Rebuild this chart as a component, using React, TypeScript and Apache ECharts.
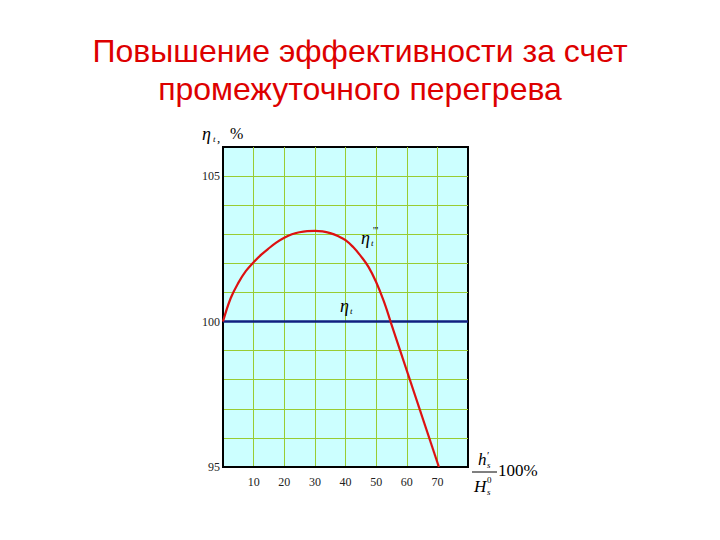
import React, { useEffect, useRef } from "react";
import * as echarts from "echarts";

const titleLines = ["Повышение эффективности за счет", "промежуточного перегрева"];
const xMin = 0;
const xMax = 80;
const xStep = 10;
const yMin = 95;
const yMax = 106;
const yStep = 1;
const xTickLabels = [10, 20, 30, 40, 50, 60, 70];
const yTickLabels = [95, 100, 105];
const reheatX = [0, 2.5, 5, 7.5, 10, 12.5, 15, 17.5, 20, 22.5, 25, 27.5, 30, 32.5, 35, 37.5, 40, 42.5, 45, 47.5, 50, 52.5, 54.7];
const reheatY = [100, 100.8, 101.33, 101.74, 102.04, 102.3, 102.52, 102.72, 102.88, 103.0, 103.07, 103.11, 103.12, 103.1, 103.04, 102.94, 102.8, 102.56, 102.25, 101.88, 101.36, 100.7, 100];
const dropX = [54.7, 70.5];
const dropY = [100, 95];
const baseX = [0, 80];
const baseY = [100, 100];

const SERIF = '"Liberation Serif", "Times New Roman", serif';
const SANS = '"Liberation Sans", Arial, sans-serif';

export default function App() {
  const ref = useRef<HTMLDivElement>(null);
  useEffect(() => {
    if (!ref.current) return;
    const chart = echarts.init(ref.current, undefined, { renderer: "svg" });
    const pair = (xs: number[], ys: number[]) => xs.map((x, i) => [x, ys[i]]);
    const it = (text: string, x: number, y: number, size: number, italic = true) => ({
      type: "text",
      x,
      y,
      z: 100,
      style: {
        text,
        font: `${italic ? "italic " : ""}${size}px ${SERIF}`,
        fill: "#000",
        align: "left",
        verticalAlign: "middle",
      },
    });
    chart.setOption({
      animation: false,
      backgroundColor: "#ffffff",
      grid: {
        left: 223,
        top: 147,
        width: 245,
        height: 320,
        show: true,
        backgroundColor: "#ccffff",
        borderColor: "#000000",
        borderWidth: 2,
      },
      xAxis: {
        type: "value",
        min: xMin,
        max: xMax,
        interval: xStep,
        axisLine: { show: true, lineStyle: { color: "#000", width: 2 } },
        axisTick: { show: false },
        axisLabel: {
          margin: 9,
          fontFamily: SERIF,
          fontSize: 12,
          color: "#222",
          formatter: (v: number) => (xTickLabels.includes(v) ? String(v) : ""),
        },
        splitLine: {
          show: true,
          showMinLine: false,
          showMaxLine: false,
          lineStyle: { color: "#99cc33", width: 1 },
        },
      },
      yAxis: {
        type: "value",
        min: yMin,
        max: yMax,
        interval: yStep,
        axisLine: { show: true, lineStyle: { color: "#000", width: 2 } },
        axisTick: { show: false },
        axisLabel: {
          margin: 3,
          fontFamily: SERIF,
          fontSize: 12,
          color: "#222",
          formatter: (v: number) => (yTickLabels.includes(v) ? String(v) : ""),
        },
        splitLine: {
          show: true,
          showMinLine: false,
          showMaxLine: false,
          lineStyle: { color: "#99cc33", width: 1 },
        },
      },
      series: [
        {
          type: "line",
          data: pair(baseX, baseY),
          showSymbol: false,
          lineStyle: { color: "#102080", width: 2.5 },
          z: 3,
        },
        {
          type: "line",
          data: pair(reheatX, reheatY),
          smooth: 0.4,
          showSymbol: false,
          lineStyle: { color: "#dd1111", width: 2.2 },
          z: 4,
        },
        {
          type: "line",
          data: pair(dropX, dropY),
          showSymbol: false,
          lineStyle: { color: "#dd1111", width: 2.2 },
          z: 4,
        },
      ],
      graphic: [
        {
          type: "text",
          x: 360,
          y: 51,
          style: {
            text: titleLines[0],
            font: `32px ${SANS}`,
            fill: "#dd0000",
            align: "center",
            verticalAlign: "middle",
          },
        },
        {
          type: "text",
          x: 360,
          y: 89,
          style: {
            text: titleLines[1],
            font: `32px ${SANS}`,
            fill: "#dd0000",
            align: "center",
            verticalAlign: "middle",
          },
        },
        // y axis name: η_t, %
        it("η", 202, 134, 18),
        it("t", 213, 139, 9),
        it(",", 217, 137, 13, false),
        it("%", 230, 133, 16, false),
        // η_t''' label
        it("η", 361, 238, 18),
        it("t", 371, 243, 9),
        it("'''", 373, 230, 10, false),
        // η_t label
        it("η", 340, 306, 18),
        it("t", 350, 311, 9),
        // fraction h's / H0s * 100%
        it("h", 478, 459, 17),
        it("′", 487, 455, 11, false),
        it("s", 487, 465, 9),
        {
          type: "line",
          z: 100,
          shape: { x1: 472, y1: 472, x2: 497, y2: 472 },
          style: { stroke: "#000", lineWidth: 1 },
        },
        it("H", 474, 486, 17),
        it("0", 487, 480, 9, false),
        it("s", 487, 492, 9),
        it("100%", 498, 470, 17, false),
      ],
    });
    return () => chart.dispose();
  }, []);
  return (
    <div
      ref={ref}
      style={{ position: "fixed", left: 0, top: 0, width: 720, height: 540 }}
    />
  );
}
